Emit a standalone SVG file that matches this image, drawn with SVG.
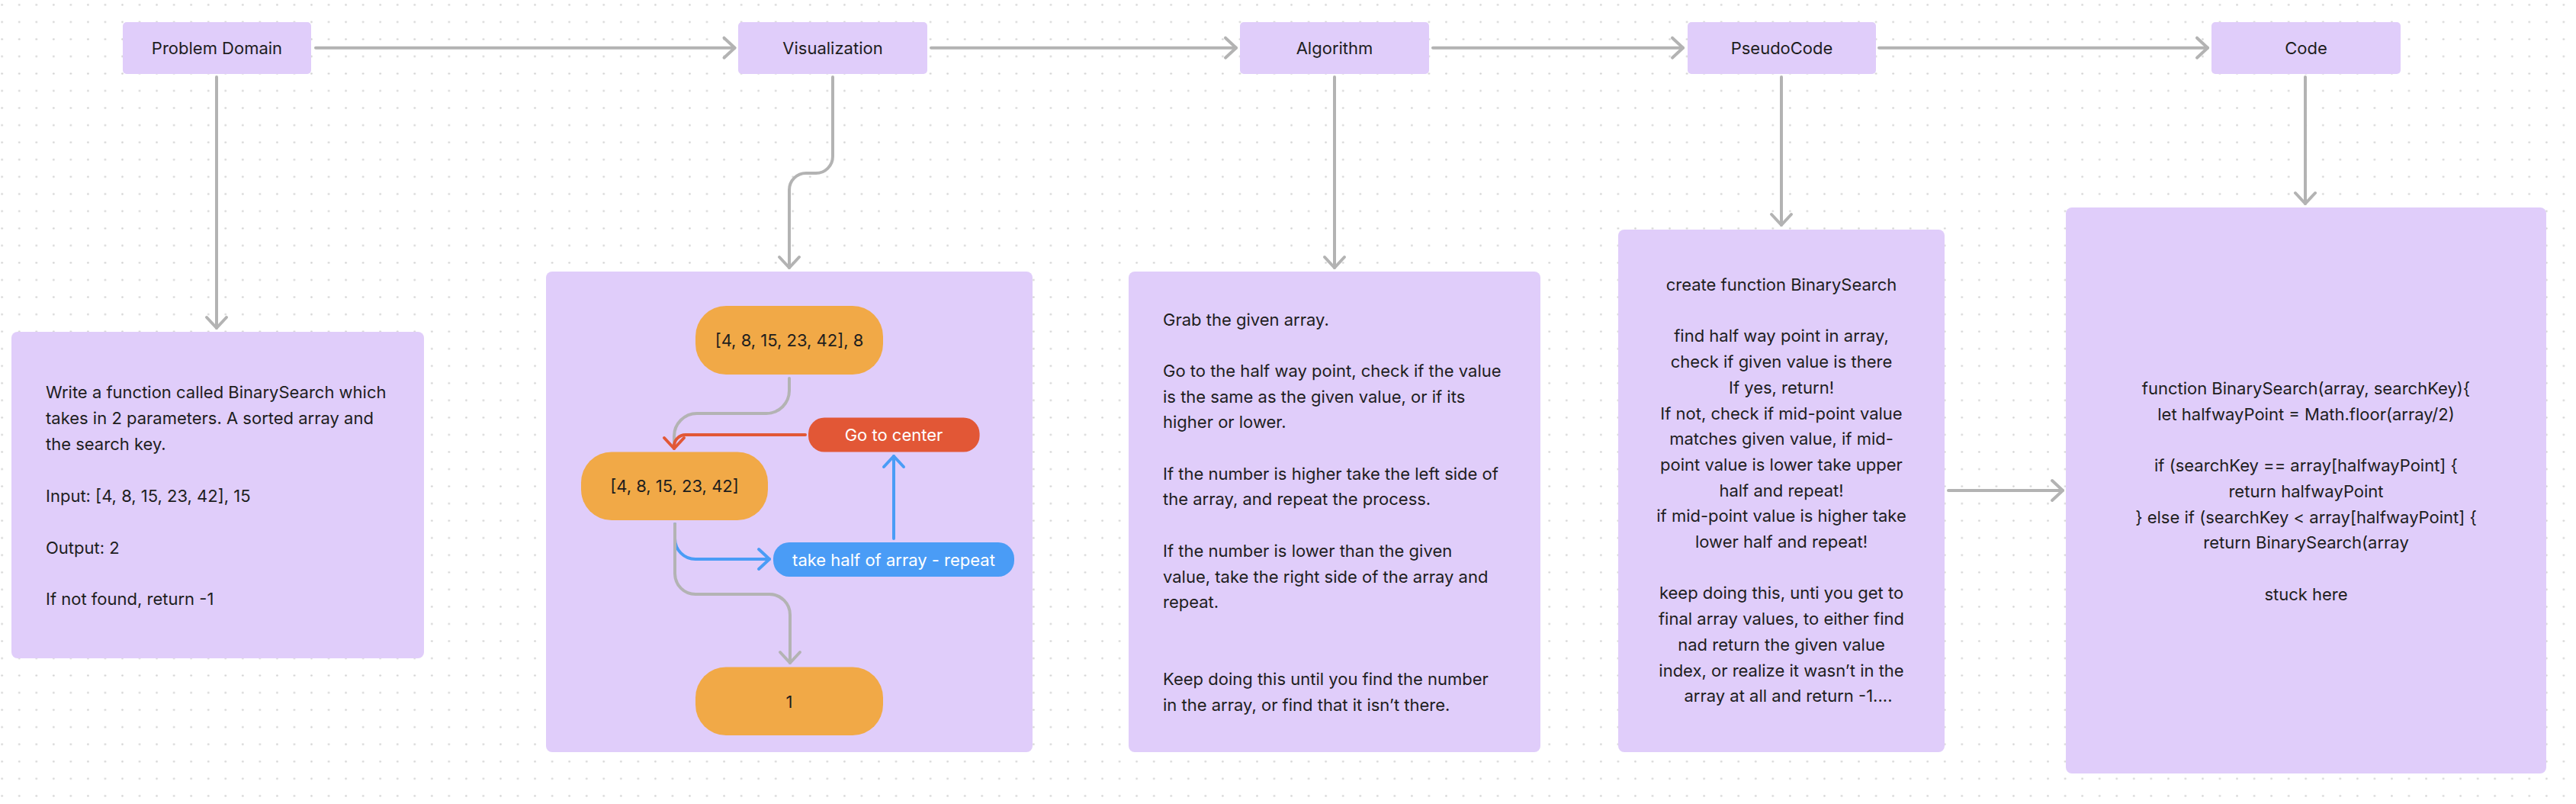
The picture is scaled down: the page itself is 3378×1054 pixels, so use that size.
<svg xmlns="http://www.w3.org/2000/svg" width="3378" height="1054" viewBox="0 0 3378 1054">
<defs>
<pattern id="dots" patternUnits="userSpaceOnUse" x="-8.57" y="-4.97" width="22.545" height="22.545">
<circle cx="11.27" cy="11.27" r="1.3" fill="#d2d2d2"/>
</pattern>
<marker id="ah-gray" markerUnits="userSpaceOnUse" markerWidth="30" markerHeight="30" viewBox="-2 -2 20 30" refX="14" refY="13" orient="auto" overflow="visible">
<path d="M0,0 L14,13 L0,26" fill="none" stroke="#b3b3b3" stroke-width="4" stroke-linecap="round" stroke-linejoin="round"/>
</marker>
<marker id="ah-red" markerUnits="userSpaceOnUse" markerWidth="30" markerHeight="30" viewBox="-2 -2 20 30" refX="14" refY="13" orient="auto" overflow="visible">
<path d="M0,0 L14,13 L0,26" fill="none" stroke="#e25736" stroke-width="4" stroke-linecap="round" stroke-linejoin="round"/>
</marker>
<marker id="ah-blue" markerUnits="userSpaceOnUse" markerWidth="30" markerHeight="30" viewBox="-2 -2 20 30" refX="14" refY="13" orient="auto" overflow="visible">
<path d="M0,0 L14,13 L0,26" fill="none" stroke="#4a9cf6" stroke-width="4" stroke-linecap="round" stroke-linejoin="round"/>
</marker>
</defs>
<style>
.box{fill:#e0cdfa;}
.orange{fill:#f1a947;}
.red{fill:#e25736;}
.blue{fill:#4a9cf6;}
text{font-family:Inter,"Noto Sans","Liberation Sans",sans-serif;font-size:22px;fill:#1e1e1e;}
.c{text-anchor:middle;}
.w{fill:#ffffff;}
.conn{fill:none;stroke-width:4;stroke-linecap:round;stroke-linejoin:round;}
.g{stroke:#b3b3b3;marker-end:url(#ah-gray);}
.r{stroke:#e25736;marker-end:url(#ah-red);}
.b{stroke:#4a9cf6;marker-end:url(#ah-blue);}
</style>
<rect width="3378" height="1054" fill="#ffffff"/>
<rect width="3378" height="1054" fill="url(#dots)"/>

<g id="nodes">
<g id="problem-domain"><rect class="box" x="161" y="29" width="247" height="68" rx="5"/><text class="c" x="284.5" y="71">Problem Domain</text></g>
<g id="visualization"><rect class="box" x="968" y="29" width="248" height="68" rx="5"/><text class="c" x="1092" y="71">Visualization</text></g>
<g id="algorithm"><rect class="box" x="1626" y="29" width="248" height="68" rx="5"/><text class="c" x="1750" y="71">Algorithm</text></g>
<g id="pseudocode"><rect class="box" x="2213" y="29" width="247" height="68" rx="5"/><text class="c" x="2336.5" y="71">PseudoCode</text></g>
<g id="code"><rect class="box" x="2900" y="29" width="248" height="68" rx="5"/><text class="c" x="3024" y="71">Code</text></g>

<g id="problem-text">
<rect class="box" x="15" y="435" width="541" height="428" rx="8"/>
<text x="60" y="522">Write a function called BinarySearch which</text>
<text x="60" y="556">takes in 2 parameters. A sorted array and</text>
<text x="60" y="590">the search key.</text>
<text x="60" y="658">Input: [4, 8, 15, 23, 42], 15</text>
<text x="60" y="726">Output: 2</text>
<text x="60" y="793">If not found, return -1</text>
</g>

<g id="visualization-panel"><rect class="box" x="716" y="356" width="638" height="630" rx="8"/></g>
<g id="viz-start"><rect class="orange" x="912" y="401" width="246" height="90" rx="40"/><text class="c" x="1035" y="454">[4, 8, 15, 23, 42], 8</text></g>
<g id="viz-array"><rect class="orange" x="762" y="592.5" width="245" height="89.5" rx="40"/><text class="c" x="884.5" y="645">[4, 8, 15, 23, 42]</text></g>
<g id="viz-result"><rect class="orange" x="912" y="874.5" width="246" height="89.5" rx="40"/><text class="c" x="1035" y="927.5">1</text></g>
<g id="viz-center"><rect class="red" x="1060" y="547.5" width="224.6" height="45" rx="21"/><text class="c w" x="1172" y="578">Go to center</text></g>
<g id="viz-half"><rect class="blue" x="1014" y="711" width="316" height="45" rx="21"/><text class="c w" x="1172" y="741.5">take half of array - repeat</text></g>

<g id="algorithm-text">
<rect class="box" x="1480" y="356" width="540" height="630" rx="8"/>
<text x="1525" y="426.5">Grab the given array.</text>
<text x="1525" y="493.9">Go to the half way point, check if the value</text>
<text x="1525" y="527.6">is the same as the given value, or if its</text>
<text x="1525" y="561.3">higher or lower.</text>
<text x="1525" y="628.7">If the number is higher take the left side of</text>
<text x="1525" y="662.4">the array, and repeat the process.</text>
<text x="1525" y="729.8">If the number is lower than the given</text>
<text x="1525" y="763.5">value, take the right side of the array and</text>
<text x="1525" y="797.2">repeat.</text>
<text x="1525" y="898.3">Keep doing this until you find the number</text>
<text x="1525" y="932">in the array, or find that it isn’t there.</text>
</g>

<g id="pseudocode-text">
<rect class="box" x="2122" y="301" width="428" height="685" rx="8"/>
<text class="c" x="2336" y="381">create function BinarySearch</text>
<text class="c" x="2336" y="448.4">find half way point in array,</text>
<text class="c" x="2336" y="482.1">check if given value is there</text>
<text class="c" x="2336" y="515.8">If yes, return!</text>
<text class="c" x="2336" y="549.5">If not, check if mid-point value</text>
<text class="c" x="2336" y="583.2">matches given value, if mid-</text>
<text class="c" x="2336" y="616.9">point value is lower take upper</text>
<text class="c" x="2336" y="650.6">half and repeat!</text>
<text class="c" x="2336" y="684.3">if mid-point value is higher take</text>
<text class="c" x="2336" y="718">lower half and repeat!</text>
<text class="c" x="2336" y="785.4">keep doing this, unti you get to</text>
<text class="c" x="2336" y="819.1">final array values, to either find</text>
<text class="c" x="2336" y="852.8">nad return the given value</text>
<text class="c" x="2336" y="886.5">index, or realize it wasn’t in the</text>
<text class="c" x="2345" y="920.2">array at all and return -1....</text>
</g>

<g id="code-text">
<rect class="box" x="2709" y="272" width="630" height="742" rx="8"/>
<text class="c" x="3024" y="517">function BinarySearch(array, searchKey){</text>
<text class="c" x="3024" y="550.7">let halfwayPoint = Math.floor(array/2)</text>
<text class="c" x="3024" y="618.1">if (searchKey == array[halfwayPoint] {</text>
<text class="c" x="3024" y="651.8">return halfwayPoint</text>
<text class="c" x="3024" y="685.5">} else if (searchKey &lt; array[halfwayPoint] {</text>
<text class="c" x="3024" y="719.2">return BinarySearch(array</text>
<text class="c" x="3024" y="786.6">stuck here</text>
</g>
</g>

<g id="connectors">
<path class="conn g" d="M414,62.7 H963.5"/>
<path class="conn g" d="M1221,62.7 H1621"/>
<path class="conn g" d="M1879,62.7 H2207"/>
<path class="conn g" d="M2464,62.7 H2895"/>
<path class="conn g" d="M284,101 V430"/>
<path class="conn g" d="M1092,101 V205 A22,22 0 0 1 1070,227 H1057 A22,22 0 0 0 1035,249 V351"/>
<path class="conn g" d="M1750,101 V351"/>
<path class="conn g" d="M2336,101 V295"/>
<path class="conn g" d="M3023,101 V267"/>
<path class="conn g" d="M2555,643 H2705"/>
<path class="conn" stroke="#b3b3b3" d="M1035,496 V512 A30,30 0 0 1 1005,542 H914 A30,30 0 0 0 884,572 V586"/>
<path class="conn r" d="M1056,570 H899 A15,15 0 0 0 884,585 V588"/>
<path class="conn b" d="M1172,706 V598"/>
<path class="conn b" d="M885,687 V706 A27,27 0 0 0 912,733 H1009"/>
<path class="conn g" d="M885,687 V752 A27,27 0 0 0 912,779 H1009 A27,27 0 0 1 1036,806 V869"/>
</g>
</svg>
